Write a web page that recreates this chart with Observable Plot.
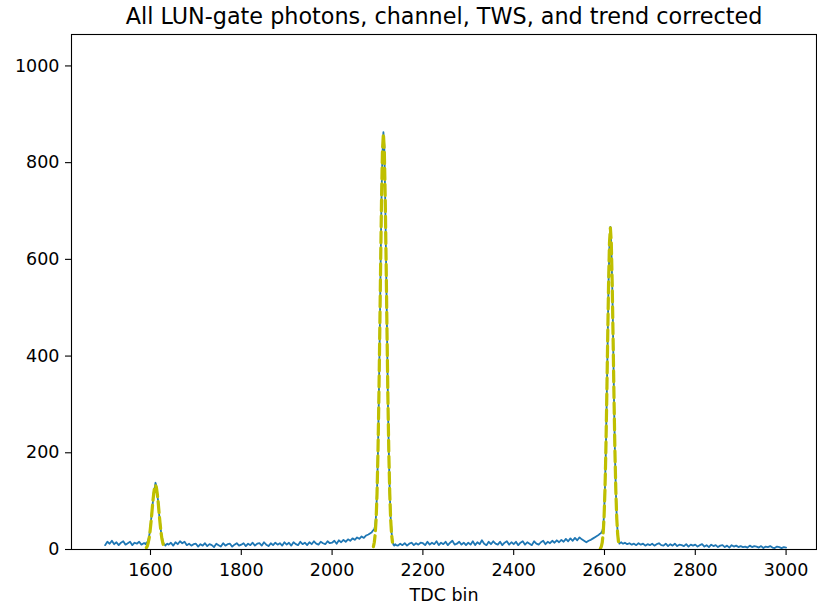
<!DOCTYPE html>
<html>
<head>
<meta charset="utf-8">
<script src="https://cdn.jsdelivr.net/npm/d3@7"></script>
<script src="https://cdn.jsdelivr.net/npm/@observablehq/plot@0.6"></script>
<style>
  html, body { margin: 0; padding: 0; background: #fff; }
  #chart { width: 817px; height: 609px; }
</style>
</head>
<body>
<div id="chart"></div>
<script>
// ---- text ----
const titleText = "All LUN-gate photons, channel, TWS, and trend corrected";
const xLabel = "TDC bin";
const xTicks = [1600, 1800, 2000, 2200, 2400, 2600, 2800, 3000];
const yTicks = [0, 200, 400, 600, 800, 1000];

// ---- histogram counts, grouped in segments ----
const leftStart = 1500, leftStep = 5;
const leftCounts = [9, 16, 12, 18, 11, 15, 9, 14, 17, 10, 13, 16, 9, 14, 12, 16, 10, 13];

const peak1Start = 1587, peak1Step = 2;
const peak1Counts = [13, 11, 14, 15, 19, 27, 40, 57, 78, 96, 118, 126, 138, 131, 112, 99, 73, 57, 38, 26, 17, 12, 10, 8, 11, 12];

const mid1Start = 1640, mid1Step = 5;
const mid1Counts = [
  10, 14, 8, 15, 11, 17, 13, 16, 9, 12, 8, 11,
  12, 6, 11, 8, 13, 7, 11, 9, 5, 12, 9, 6, 13, 8, 11, 12, 6, 10, 13, 8,
  10, 13, 7, 12, 9, 14, 8, 12, 13, 8, 15, 10, 7, 13, 9, 14, 10, 13, 8, 15,
  10, 14, 8, 15, 11, 9, 16, 11, 14, 9, 15, 11, 17, 12, 10, 16, 13, 11, 17, 13,
  14, 18, 12, 19, 15, 20, 16, 21, 18, 23, 20, 25, 22, 27, 24, 29, 31, 34
];

const peak2Start = 2087, peak2Step = 2;
const peak2Counts = [35, 38, 40, 42, 50, 72, 120, 200, 315, 445, 600, 735, 820, 863, 835, 725, 590, 452, 305, 200, 118, 66, 35, 18, 10, 8, 11, 9];

const mid2Start = 2145, mid2Step = 5;
const mid2Counts = [
  8, 12, 9, 13, 8, 12, 14, 9, 13, 10, 14,
  13, 9, 16, 10, 14, 11, 17, 9, 14, 11, 16, 9, 14, 18, 10, 12, 16, 10, 14, 9,
  14, 10, 17, 9, 15, 11, 19, 12, 9, 16, 11, 17, 12, 10, 16, 9, 14, 17, 10, 15,
  11, 16, 9, 14, 17, 10, 15, 12, 9, 17, 12, 10, 15, 18, 11, 16, 13, 18, 14, 19,
  15, 20, 16, 22, 17, 23, 18, 24, 19, 25, 21, 18, 15, 18, 20, 23, 26, 29
];

const peak3Start = 2587, peak3Step = 2;
const peak3Counts = [30, 32, 33, 35, 38, 45, 72, 125, 205, 315, 430, 555, 630, 667, 628, 552, 438, 308, 200, 122, 66, 35, 18, 12, 14, 15, 13, 12];

const rightStart = 2645, rightStep = 5;
const rightCounts = [
  14, 11, 13, 10, 12, 9, 13, 10, 12, 8, 11,
  9, 12, 8, 11, 13, 9, 8, 12, 7, 11, 8, 12, 7, 10, 9, 7, 11, 6, 10, 8,
  10, 6, 9, 11, 6, 9, 5, 10, 7, 9, 5, 8, 9, 5, 8, 4, 9, 6, 8, 5,
  7, 5, 6, 4, 8, 5, 7, 6, 4, 7, 3, 6, 5, 7, 4, 3, 6, 5, 3, 5,
  4
];

// ---- fitted peak curves ----
const fit1Start = 1591, fit1Step = 2;
const fit1Values = [4, 7, 14, 23, 37, 55, 75, 97, 115, 128, 133, 128, 115, 97, 75, 55, 37, 23, 14, 7, 4];
const fit2Start = 2091, fit2Step = 2;
const fit2Values = [6, 15, 32, 63, 116, 198, 310, 448, 596, 730, 826, 860, 826, 730, 596, 448, 310, 198, 116, 63, 32, 15];
const fit3Start = 2591, fit3Step = 2;
const fit3Values = [2, 6, 14, 32, 65, 121, 203, 312, 434, 550, 634, 665, 634, 550, 434, 312, 203, 121, 65, 32, 14];

// ---- build tables ----
function seg(start, step, vals) {
  return vals.map((v, i) => ({bin: start + i * step, count: v}));
}
const hist = [].concat(
  seg(leftStart, leftStep, leftCounts),
  seg(peak1Start, peak1Step, peak1Counts),
  seg(mid1Start, mid1Step, mid1Counts),
  seg(peak2Start, peak2Step, peak2Counts),
  seg(mid2Start, mid2Step, mid2Counts),
  seg(peak3Start, peak3Step, peak3Counts),
  seg(rightStart, rightStep, rightCounts)
);
const fits = [
  seg(fit1Start, fit1Step, fit1Values).map(d => ({...d, peak: 1})),
  seg(fit2Start, fit2Step, fit2Values).map(d => ({...d, peak: 2})),
  seg(fit3Start, fit3Step, fit3Values).map(d => ({...d, peak: 3}))
].flat();

const chart = Plot.plot({
  width: 817,
  height: 609,
  marginLeft: 71,
  marginRight: 1,
  marginTop: 34,
  marginBottom: 60,
  style: {fontFamily: "DejaVu Sans", fontSize: "17.5px", background: "#fff", color: "#000"},
  x: {domain: [1426, 3067]},
  y: {domain: [0, 1065]},
  marks: [
    Plot.line(hist, {x: "bin", y: "count", stroke: "#1f77b4", strokeWidth: 1.8, clip: true}),
    Plot.line(fits, {x: "bin", y: "count", z: "peak", stroke: "#bfbf00", strokeWidth: 3.2, strokeDasharray: "11,5", clip: true}),
    Plot.frame({stroke: "#000", strokeWidth: 1.1}),
    Plot.axisX({ticks: xTicks, tickSize: 6, tickPadding: 8, tickFormat: d => String(d), label: null, stroke: "#000", strokeWidth: 1.1, fill: "#000"}),
    Plot.axisY({ticks: yTicks, tickSize: 6, tickPadding: 6, tickFormat: d => String(d), label: null, stroke: "#000", strokeWidth: 1.1, fill: "#000"}),
    Plot.text([xLabel], {text: d => d, frameAnchor: "bottom", dy: 51, lineAnchor: "bottom", fill: "#000"}),
    Plot.text([titleText], {text: d => d, frameAnchor: "top", dy: -10.5, lineAnchor: "bottom", fontSize: 22.3, fill: "#000"})
  ]
});
document.getElementById("chart").appendChild(chart);
</script>
</body>
</html>
